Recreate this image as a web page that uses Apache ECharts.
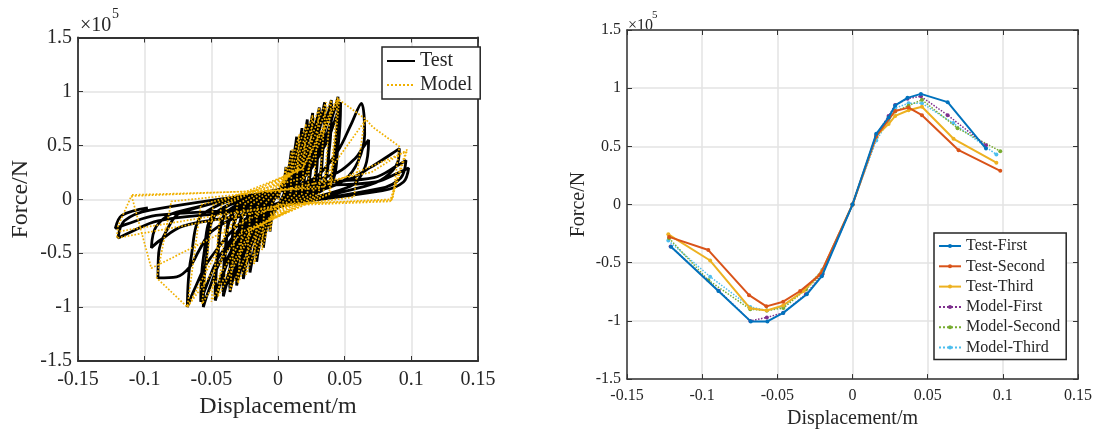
<!DOCTYPE html>
<html>
<head>
<meta charset="utf-8">
<script src="https://cdn.jsdelivr.net/npm/echarts@6/dist/echarts.min.js"></script>
<style>
html,body{margin:0;padding:0;background:#fff;}
#c{width:1096px;height:434px;}
</style>
</head>
<body>
<div id="c"></div>
<script>
// ---------- tick labels ----------
const xTickVals = [-0.15, -0.1, -0.05, 0, 0.05, 0.1, 0.15];
const xTickLabels = ['-0.15', '-0.1', '-0.05', '0', '0.05', '0.1', '0.15'];
const yTickVals = [-1.5, -1, -0.5, 0, 0.5, 1, 1.5];
const yTickLabels = ['-1.5', '-1', '-0.5', '0', '0.5', '1', '1.5'];

// ---------- left panel: hysteresis loops (force in 1e5 N) ----------
const testLoop = [
  [0,0],
  [0.002,0.10],[0.0045,0.165],[0.0056,0.255],[0.006,0.30],[0.0058,0.165],[0.0048,0.06],[-0.002,-0.10],[-0.0045,-0.165],[-0.0056,-0.255],[-0.006,-0.30],[-0.0058,-0.165],[-0.0048,-0.06],
  [0.003,0.13],[0.0075,0.25],[0.0093,0.38],[0.010,0.45],[0.0096,0.25],[0.008,0.10],[-0.0033,-0.13],[-0.0083,-0.25],[-0.0102,-0.38],[-0.011,-0.45],[-0.0106,-0.25],[-0.0088,-0.10],
  [0.0042,0.15],[0.0105,0.32],[0.013,0.49],[0.014,0.58],[0.0134,0.32],[0.0112,0.12],[-0.0048,-0.15],[-0.012,-0.32],[-0.0149,-0.49],[-0.016,-0.58],[-0.0154,-0.32],[-0.0128,-0.12],
  [0.0054,0.15],[0.0135,0.36],[0.0167,0.56],[0.018,0.66],[0.0173,0.36],[0.0144,0.12],[-0.0063,-0.15],[-0.0158,-0.37],[-0.0195,-0.58],[-0.021,-0.68],[-0.0202,-0.37],[-0.0168,-0.12],
  [0.0066,0.15],[0.0165,0.41],[0.0205,0.63],[0.022,0.74],[0.0211,0.41],[0.0176,0.12],[-0.0078,-0.15],[-0.0195,-0.41],[-0.0242,-0.63],[-0.026,-0.74],[-0.025,-0.41],[-0.0208,-0.12],
  [0.0070,0.14],[0.0170,0.38],[0.0208,0.60],[0.0222,0.70],[0.0212,0.38],[0.0178,0.11],[-0.0080,-0.14],[-0.0198,-0.38],[-0.0245,-0.60],[-0.0262,-0.70],[-0.0252,-0.38],[-0.0210,-0.11],
  [0.0078,0.15],[0.0195,0.44],[0.0242,0.68],[0.026,0.80],[0.025,0.44],[0.0208,0.12],[-0.0093,-0.15],[-0.0233,-0.44],[-0.0288,-0.68],[-0.031,-0.80],[-0.0298,-0.44],[-0.0248,-0.12],
  [0.0082,0.14],[0.0198,0.41],[0.0245,0.65],[0.0262,0.76],[0.0252,0.41],[0.0210,0.11],[-0.0095,-0.14],[-0.0236,-0.41],[-0.0290,-0.64],[-0.0312,-0.76],[-0.0300,-0.41],[-0.0250,-0.11],
  [0.0093,0.15],[0.0233,0.47],[0.0288,0.72],[0.031,0.85],[0.0298,0.47],[0.0248,0.12],[-0.0108,-0.15],[-0.027,-0.47],[-0.0335,-0.73],[-0.036,-0.86],[-0.0346,-0.47],[-0.0288,-0.12],
  [0.0096,0.14],[0.0236,0.44],[0.0290,0.69],[0.0313,0.81],[0.0300,0.44],[0.0250,0.11],[-0.0110,-0.14],[-0.0273,-0.44],[-0.0337,-0.69],[-0.0362,-0.82],[-0.0348,-0.44],[-0.0290,-0.11],
  [0.0105,0.15],[0.0263,0.50],[0.0326,0.77],[0.035,0.90],[0.0336,0.50],[0.028,0.12],[-0.0123,-0.15],[-0.0308,-0.50],[-0.0381,-0.77],[-0.041,-0.90],[-0.0394,-0.50],[-0.0328,-0.12],
  [0.0108,0.14],[0.0266,0.47],[0.0328,0.73],[0.0353,0.86],[0.0338,0.47],[0.0282,0.11],[-0.0125,-0.14],[-0.0311,-0.47],[-0.0383,-0.74],[-0.0412,-0.86],[-0.0396,-0.47],[-0.0330,-0.11],
  [0.012,0.15],[0.030,0.51],[0.0372,0.78],[0.040,0.92],[0.0384,0.51],[0.032,0.12],[-0.0141,-0.15],[-0.0353,-0.52],[-0.0437,-0.80],[-0.047,-0.94],[-0.0451,-0.52],[-0.0376,-0.12],
  [0.0123,0.14],[0.0303,0.48],[0.0375,0.74],[0.0403,0.88],[0.0386,0.48],[0.0322,0.11],[-0.0143,-0.14],[-0.0356,-0.49],[-0.0440,-0.77],[-0.0472,-0.90],[-0.0453,-0.49],[-0.0378,-0.11],
  [0.0135,0.15],[0.0338,0.52],[0.0419,0.81],[0.045,0.95],[0.0432,0.52],[0.036,0.12],[-0.0168,-0.15],[-0.042,-0.55],[-0.0521,-0.85],[-0.056,-1.00],[-0.0538,-0.55],[-0.0448,-0.12],
  [0.0141,0.15],[0.0353,0.50],[0.0437,0.77],[0.047,0.90],[0.0451,0.50],[0.0376,0.12],[-0.0174,-0.15],[-0.0435,-0.52],[-0.0539,-0.81],[-0.058,-0.95],[-0.0557,-0.52],[-0.0464,-0.12],
  [0.0189,0.15],[0.030,0.22],[0.045,0.45],[0.055,0.70],[0.0625,0.89],[0.065,0.60],[0.060,0.35],[0.050,0.18],[0.036,0.10],
  [-0.0204,-0.15],[-0.051,-0.55],[-0.0632,-0.85],[-0.068,-1.00],[-0.0653,-0.55],[-0.0544,-0.12],
  [0.0204,0.15],[0.045,0.25],[0.058,0.38],[0.0632,0.47],[0.068,0.55],[0.0653,0.30],[0.0544,0.12],
  [-0.027,-0.15],[-0.050,-0.30],[-0.059,-0.47],[-0.066,-0.625],[-0.076,-0.72],[-0.090,-0.73],[-0.0895,-0.50],[-0.084,-0.30],[-0.072,-0.12],
  [0.027,0.15],[0.050,0.17],[0.070,0.30],[0.085,0.42],[0.091,0.47],[0.090,0.35],[0.080,0.20],[0.065,0.12],
  [-0.0285,-0.15],[-0.0713,-0.25],[-0.0884,-0.38],[-0.095,-0.45],[-0.0912,-0.25],[-0.076,-0.12],
  [0.0288,0.15],[0.072,0.20],[0.0893,0.31],[0.096,0.36],[0.0922,0.20],[0.0768,0.10],[-0.036,-0.12],[-0.090,-0.20],[-0.1116,-0.31],[-0.120,-0.36],[-0.1152,-0.20],[-0.096,-0.10],
  [0.0294,0.12],[0.0735,0.16],[0.0911,0.25],[0.098,0.29],[0.0941,0.16],[0.0784,0.08],[-0.0366,-0.10],[-0.0915,-0.15],[-0.1135,-0.23],[-0.122,-0.27],[-0.1171,-0.15],[-0.0976,-0.08]
];

const modelLoop = [
  [0,0],
  [0.0024,0.09],[0.006,0.30],[0.0051,0.05],[-0.0024,-0.09],[-0.006,-0.30],[-0.0051,-0.05],
  [0.0044,0.14],[0.011,0.47],[0.0094,0.05],[-0.0048,-0.14],[-0.012,-0.47],[-0.0102,-0.05],
  [0.0064,0.18],[0.016,0.60],[0.0136,0.05],[-0.0072,-0.18],[-0.018,-0.60],[-0.0153,-0.05],
  [0.0084,0.21],[0.021,0.70],[0.0179,0.05],[-0.0096,-0.21],[-0.024,-0.70],[-0.0204,-0.05],
  [0.0104,0.23],[0.026,0.78],[0.0221,0.05],[-0.012,-0.23],[-0.030,-0.78],[-0.0255,-0.05],
  [0.0124,0.25],[0.031,0.85],[0.0264,0.05],[-0.0144,-0.25],[-0.036,-0.85],[-0.0306,-0.05],
  [0.0144,0.27],[0.036,0.90],[0.0306,0.05],[-0.018,-0.27],[-0.045,-0.90],[-0.0383,-0.05],
  [0.016,0.28],[0.040,0.92],[0.034,0.05],[-0.020,-0.28],[-0.050,-0.95],[-0.0425,-0.05],
  [0.018,0.28],[0.045,0.95],[0.0383,0.05],[-0.0228,-0.29],[-0.057,-0.97],[-0.0485,-0.05],
  [0.0184,0.28],[0.046,0.93],[0.0391,0.05],[-0.0272,-0.30],[-0.068,-1.00],[-0.0578,-0.05],
  [0.02,0.20],[0.045,0.93],[0.065,0.75],[0.057,0.02],[-0.03,-0.12],[-0.068,-1.0],[-0.091,-0.73],[-0.08,-0.02],
  [0.03,0.12],[0.066,0.74],[0.071,0.67],[0.091,0.49],[0.086,0.0],[0.0,-0.05],[-0.095,-0.64],[-0.11,0.04],[0.0,0.08],
  [0.07,0.25],[0.097,0.46],[0.085,-0.01],[0.02,-0.04],[-0.121,-0.36],[-0.12,-0.25],[-0.11,0.03],[0.03,0.10],
  [0.096,0.44],[0.092,0.30],[0.084,-0.02],[0.0,-0.06],[-0.12,-0.30]
];

// ---------- right panel: skeleton curves ([displacement m, force 1e5 N]) ----------
const testFirst = [[-0.1207,-0.363],[-0.0892,-0.743],[-0.0677,-1.004],[-0.0566,-1.004],[-0.0461,-0.931],[-0.0304,-0.771],[-0.0204,-0.616],[0,0],[0.0158,0.608],[0.024,0.748],[0.0284,0.852],[0.0366,0.917],[0.0455,0.951],[0.0633,0.880],[0.0888,0.481]];
const testSecond = [[-0.122,-0.278],[-0.0959,-0.391],[-0.0688,-0.779],[-0.0573,-0.875],[-0.0461,-0.835],[-0.0348,-0.743],[-0.0215,-0.602],[0,0],[0.0158,0.588],[0.0284,0.804],[0.0373,0.833],[0.0462,0.768],[0.0706,0.467],[0.0983,0.290]];
const testThird = [[-0.1225,-0.256],[-0.0947,-0.481],[-0.0681,-0.892],[-0.057,-0.911],[-0.0461,-0.867],[-0.0326,-0.743],[-0.0204,-0.574],[0,0],[0.0158,0.59],[0.024,0.692],[0.0284,0.762],[0.0373,0.810],[0.0462,0.84],[0.0672,0.565],[0.0957,0.360]];
const modelFirst = [[-0.121,-0.36],[-0.089,-0.74],[-0.068,-1.0],[-0.057,-0.97],[-0.046,-0.93],[-0.031,-0.77],[-0.02,-0.60],[0,0],[0.0158,0.60],[0.024,0.76],[0.0284,0.855],[0.0366,0.91],[0.0455,0.93],[0.0633,0.768],[0.0888,0.51]];
const modelSecond = [[-0.122,-0.29],[-0.0959,-0.65],[-0.068,-0.90],[-0.057,-0.91],[-0.046,-0.89],[-0.031,-0.73],[-0.02,-0.59],[0,0],[0.0158,0.58],[0.024,0.74],[0.0284,0.80],[0.0373,0.85],[0.0462,0.90],[0.0699,0.656],[0.0983,0.458]];
const modelThird = [[-0.1225,-0.31],[-0.0947,-0.62],[-0.068,-0.88],[-0.057,-0.91],[-0.046,-0.88],[-0.031,-0.72],[-0.02,-0.56],[0,0],[0.0158,0.55],[0.024,0.72],[0.0284,0.83],[0.0373,0.87],[0.0462,0.87],[0.067,0.70],[0.0957,0.43]];

const seriesNamesLeft = ['Test', 'Model'];
const seriesNamesRight = ['Test-First', 'Test-Second', 'Test-Third', 'Model-First', 'Model-Second', 'Model-Third'];
const rightColors = ['#0072BD', '#D95319', '#EDB120', '#7E2F8E', '#77AC30', '#4DBEEE'];

const FONT = '"Liberation Serif","Times New Roman",serif';
const TXT = '#262626';

function nearestLabel(vals, labels) {
  return function (v) {
    let bi = 0, bd = Infinity;
    vals.forEach((t, i) => { const d = Math.abs(t - v); if (d < bd) { bd = d; bi = i; } });
    return bd < 1e-6 ? labels[bi] : '';
  };
}

function xAx(grid, pos, show, fs, nameGap, lw) {
  return {
    type: 'value', gridIndex: grid, position: pos, min: -0.15, max: 0.15, interval: 0.05,
    name: show ? 'Displacement/m' : '', nameLocation: 'middle', nameGap: nameGap,
    nameTextStyle: { fontFamily: FONT, fontSize: fs + 4, color: TXT },
    axisLine: { show: true, onZero: false, lineStyle: { color: '#333', width: lw } },
    axisTick: { show: true, inside: true, length: 5, lineStyle: { color: '#333', width: 1 } },
    axisLabel: { show: show, margin: show ? 9 : 0, fontFamily: FONT, fontSize: fs, color: TXT,
      formatter: nearestLabel(xTickVals, xTickLabels) },
    splitLine: { show: show, lineStyle: { color: '#e3e3e3', width: 1.5 } }
  };
}
function yAx(grid, pos, show, fs, nameGap, lw) {
  return {
    type: 'value', gridIndex: grid, position: pos, min: -1.5, max: 1.5, interval: 0.5,
    name: show ? 'Force/N' : '', nameLocation: 'middle', nameGap: nameGap,
    nameTextStyle: { fontFamily: FONT, fontSize: fs + 4, color: TXT },
    axisLine: { show: true, onZero: false, lineStyle: { color: '#333', width: lw } },
    axisTick: { show: true, inside: true, length: 5, lineStyle: { color: '#333', width: 1 } },
    axisLabel: { show: show, margin: 6, fontFamily: FONT, fontSize: fs, color: TXT,
      formatter: nearestLabel(yTickVals, yTickLabels) },
    splitLine: { show: show, lineStyle: { color: '#e3e3e3', width: 1.5 } }
  };
}

const rightData = [testFirst, testSecond, testThird, modelFirst, modelSecond, modelThird];
const rightSeries = seriesNamesRight.map((n, i) => ({
  name: n, type: 'line', xAxisIndex: 2, yAxisIndex: 2, data: rightData[i],
  symbol: 'circle', symbolSize: 4, showSymbol: true,
  lineStyle: { color: rightColors[i], width: i < 3 ? 2 : 1.5, type: i < 3 ? 'solid' : 'dotted' },
  itemStyle: { color: rightColors[i] },
  animation: false, z: 10 - i
}));

const chart = echarts.init(document.getElementById('c'), null, { renderer: 'canvas' });
chart.setOption({
  backgroundColor: '#fff',
  animation: false,
  grid: [
    { left: 78, top: 37.5, width: 400, height: 323.5, containLabel: false },
    { left: 627, top: 30, width: 451, height: 355, containLabel: false }
  ],
  xAxis: [
    xAx(0, 'bottom', true, 20, 34, 1.8),
    xAx(0, 'top', false, 20, 0, 1.8),
    xAx(1, 'bottom', true, 16, 28, 1.5),
    xAx(1, 'top', false, 16, 0, 1.5)
  ],
  yAxis: [
    yAx(0, 'left', true, 20, 45, 1.8),
    yAx(0, 'right', false, 20, 0, 1.8),
    yAx(1, 'left', true, 16, 38, 1.5),
    yAx(1, 'right', false, 16, 0, 1.5)
  ],
  legend: [
    {
      data: seriesNamesLeft, orient: 'vertical', left: 382, top: 47,
      backgroundColor: '#fff', borderColor: '#262626', borderWidth: 1.5,
      padding: [4, 8, 4, 4], itemWidth: 28, itemHeight: 12, itemGap: 4,
      itemStyle: { opacity: 0 },
      textStyle: { fontFamily: FONT, fontSize: 20, color: TXT }
    },
    {
      data: seriesNamesRight, orient: 'vertical', left: 934, top: 233,
      backgroundColor: '#fff', borderColor: '#262626', borderWidth: 1.5,
      padding: [5, 6, 4, 4], itemWidth: 22, itemHeight: 5, itemGap: 4.3,
      textStyle: { fontFamily: FONT, fontSize: 16, color: TXT }
    }
  ],
  graphic: [
    { type: 'text', left: 80, top: 16, style: { text: '×10', fontFamily: FONT, fontSize: 20, fill: TXT } },
    { type: 'text', left: 112, top: 7, style: { text: '5', fontFamily: FONT, fontSize: 14, fill: TXT } },
    { type: 'text', left: 628, top: 18, style: { text: '×10', fontFamily: FONT, fontSize: 16, fill: TXT } },
    { type: 'text', left: 652, top: 10, style: { text: '5', fontFamily: FONT, fontSize: 11, fill: TXT } }
  ],
  series: [
    {
      name: 'Test', type: 'line', xAxisIndex: 0, yAxisIndex: 0, data: testLoop,
      symbol: 'none', smooth: 0.35, lineStyle: { color: '#000', width: 2.8 }, itemStyle: { color: '#000' },
      animation: false, z: 2
    },
    {
      name: 'Model', type: 'line', xAxisIndex: 0, yAxisIndex: 0, data: modelLoop,
      symbol: 'none', lineStyle: { color: '#F0B000', width: 1.7, type: 'dotted' }, itemStyle: { color: '#F0B000' },
      animation: false, z: 3
    }
  ].concat(rightSeries)
});
</script>
</body>
</html>
